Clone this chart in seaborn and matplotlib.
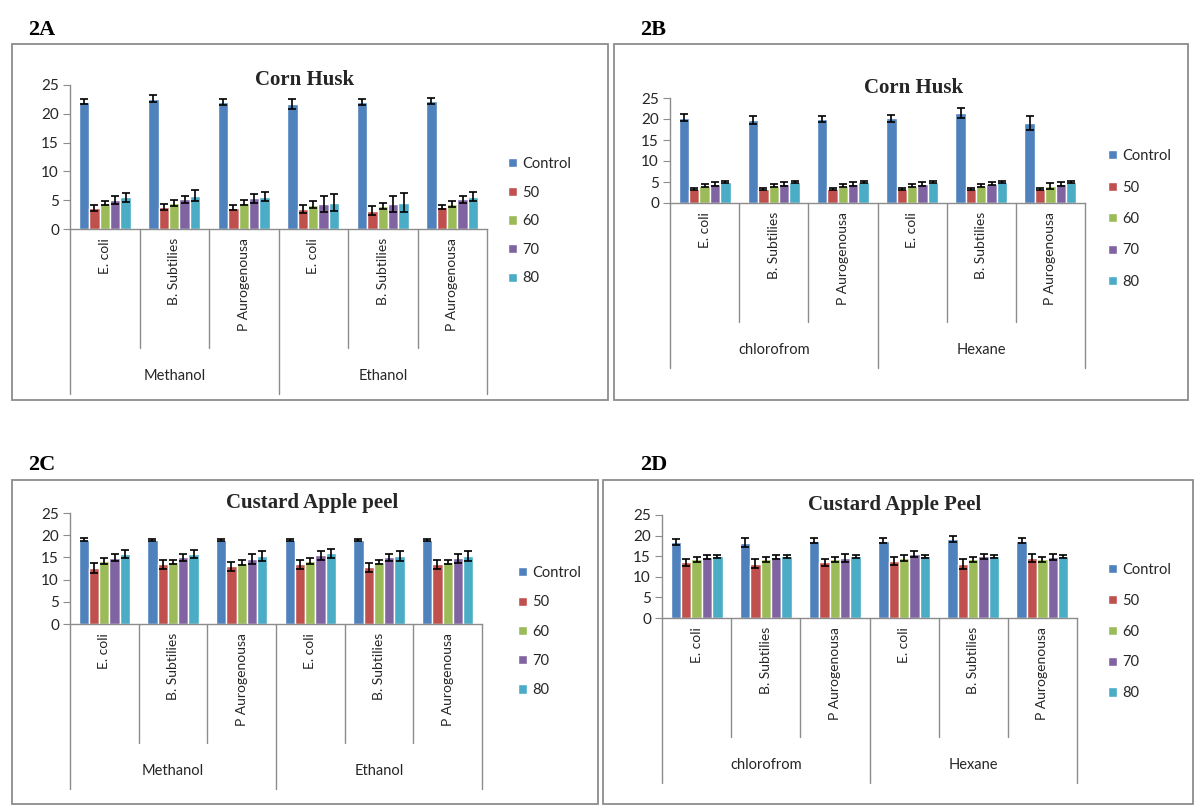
import matplotlib
matplotlib.use("Agg")
import matplotlib.pyplot as plt
import matplotlib.transforms as mtransforms
from matplotlib.patches import Rectangle
from matplotlib.lines import Line2D
import pandas as pd
import seaborn as sns

# ---------------- data ----------------
series = ["Control", "50", "60", "70", "80"]
organisms = ["E. coli", "B. Subtilies", "P Aurogenousa"]
solvents_ab = ["Methanol", "Ethanol"]
solvents_cd = ["chlorofrom", "Hexane"]
yticks = [0, 5, 10, 15, 20, 25]

# Panel 2A  Corn Husk (Methanol / Ethanol); rows = series, cols = 6 categories
a_means = [[22.1, 22.6, 22.0, 21.7, 22.0, 22.2],
           [3.6, 3.8, 3.7, 3.4, 3.2, 3.8],
           [4.5, 4.5, 4.6, 4.2, 4.0, 4.3],
           [5.0, 5.2, 5.3, 4.3, 4.3, 5.2],
           [5.5, 5.8, 5.6, 4.6, 4.6, 5.6]]
a_errs = [[0.4, 0.6, 0.5, 0.8, 0.5, 0.5],
          [0.5, 0.5, 0.4, 0.7, 0.8, 0.4],
          [0.4, 0.5, 0.5, 0.6, 0.6, 0.5],
          [0.7, 0.6, 0.7, 1.4, 1.4, 0.6],
          [0.8, 0.9, 0.8, 1.5, 1.6, 0.8]]

# Panel 2B  Corn Husk (chlorofrom / Hexane)
b_means = [[20.3, 19.8, 20.0, 20.2, 21.5, 19.0],
           [3.3, 3.3, 3.3, 3.3, 3.3, 3.3],
           [4.1, 4.1, 4.1, 4.1, 4.1, 4.0],
           [4.5, 4.5, 4.5, 4.5, 4.6, 4.5],
           [5.0, 5.0, 5.0, 5.0, 5.0, 5.0]]
b_errs = [[0.8, 1.0, 0.8, 0.8, 1.2, 1.6],
          [0.2, 0.2, 0.2, 0.2, 0.2, 0.2],
          [0.4, 0.4, 0.4, 0.4, 0.4, 0.7],
          [0.4, 0.4, 0.4, 0.4, 0.4, 0.5],
          [0.3, 0.3, 0.3, 0.3, 0.3, 0.3]]

# Panel 2C  Custard Apple peel (Methanol / Ethanol)
c_means = [[19.0, 19.0, 19.0, 19.0, 19.0, 19.0],
           [12.6, 13.5, 13.0, 13.5, 12.8, 13.5],
           [14.2, 14.0, 13.8, 14.2, 14.0, 14.0],
           [14.9, 15.0, 14.6, 15.5, 15.0, 14.8],
           [15.8, 15.8, 15.3, 15.9, 15.3, 15.3]]
c_errs = [[0.3, 0.2, 0.2, 0.2, 0.2, 0.2],
          [1.2, 1.0, 1.0, 1.0, 1.0, 1.0],
          [0.6, 0.5, 0.6, 0.6, 0.5, 0.5],
          [0.8, 0.8, 1.1, 1.0, 0.8, 1.0],
          [0.9, 0.9, 1.2, 1.0, 1.2, 1.2]]

# Panel 2D  Custard Apple Peel (chlorofrom / Hexane)
d_means = [[18.5, 18.3, 18.8, 18.8, 19.2, 18.8],
           [13.5, 13.2, 13.5, 13.8, 13.0, 14.5],
           [14.2, 14.2, 14.2, 14.5, 14.2, 14.2],
           [14.8, 14.8, 14.5, 15.5, 15.0, 14.8],
           [15.0, 15.0, 15.0, 15.0, 15.0, 15.0]]
d_errs = [[0.7, 1.0, 0.6, 0.5, 0.8, 0.6],
          [0.8, 1.0, 0.8, 1.0, 1.2, 1.0],
          [0.6, 0.6, 0.6, 0.7, 0.6, 0.6],
          [0.6, 0.6, 1.0, 0.8, 0.6, 0.8],
          [0.4, 0.4, 0.4, 0.4, 0.4, 0.4]]

colors = ["#4F81BD", "#C0504D", "#9BBB59", "#8064A2", "#4BACC6"]

# ---------------- style ----------------
sns.set_style("white")
plt.rcParams["font.family"] = ["Lato", "DejaVu Sans"]
TXT = "#262626"
GRID = "#8c8c8c"

W, H = 1194, 805
fig = plt.figure(figsize=(W / 100, H / 100), dpi=100)


def fx(x):
    return x / W


def fy(y):
    return 1 - y / H


def draw_panel(means, errs, solvents, title, tag, box, axrect, title_xy, tag_xy,
               leg_xy, leg_spacing):
    # panel frame
    x0, y0, x1, y1 = box
    fig.add_artist(Rectangle((fx(x0), fy(y1)), fx(x1) - fx(x0), fy(y0) - fy(y1),
                             transform=fig.transFigure, fill=False,
                             edgecolor=GRID, lw=1.3))
    fig.text(fx(tag_xy[0]), fy(tag_xy[1]), tag, family="Liberation Serif",
             fontweight="bold", fontsize=16, ha="left", va="center", color="black")
    fig.text(fx(title_xy[0]), fy(title_xy[1]), title, family="Liberation Serif",
             fontweight="bold", fontsize=15, ha="center", va="center", color=TXT)

    ax0, ay0, ax1, ay1 = axrect
    ax = fig.add_axes([fx(ax0), fy(ay1), fx(ax1) - fx(ax0), fy(ay0) - fy(ay1)])
    ax_h = ay1 - ay0

    cats = [f"{s}|{o}" for s in solvents for o in organisms]
    rows = []
    for si, s in enumerate(series):
        for ci, c in enumerate(cats):
            rows.append({"cat": c, "series": s, "value": means[si][ci]})
    df = pd.DataFrame(rows)
    sns.barplot(data=df, x="cat", y="value", hue="series", order=cats,
                hue_order=series, palette=colors, width=0.75, errorbar=None,
                saturation=1, ax=ax)
    handles, labels = ax.get_legend_handles_labels()
    if ax.get_legend() is not None:
        ax.get_legend().remove()

    bar_conts = list(ax.containers)
    for si, cont in enumerate(bar_conts):
        xs = [b.get_x() + b.get_width() / 2 for b in cont.patches]
        hs = [b.get_height() for b in cont.patches]
        ax.errorbar(xs, hs, yerr=errs[si], fmt="none", ecolor="black",
                    elinewidth=1.2, capsize=3, capthick=1.2, zorder=5)

    ax.set_xlim(-0.5, len(cats) - 0.5)
    ax.set_ylim(0, 25)
    ax.set_yticks(yticks)
    ax.set_yticklabels([str(t) for t in yticks], fontsize=11, color=TXT)
    ax.set_xticks([])
    ax.set_xlabel("")
    ax.set_ylabel("")
    for side in ["top", "right"]:
        ax.spines[side].set_visible(False)
    for side in ["left", "bottom"]:
        ax.spines[side].set_color(GRID)
        ax.spines[side].set_linewidth(1.0)
    ax.tick_params(axis="y", direction="out", length=5, color=GRID, pad=3,
                   left=True)

    # multi-level category axis
    trans = mtransforms.blended_transform_factory(ax.transData, ax.transAxes)
    short_len, long_len, grp_off, lab_off = 119, 165, 147, 9
    for i in range(len(cats) + 1):
        x = i - 0.5
        L = long_len if i % 3 == 0 else short_len
        ax.add_line(Line2D([x, x], [0, -L / ax_h], transform=trans, color=GRID,
                           lw=1.0, clip_on=False))
    for i, c in enumerate(cats):
        ax.text(i, -lab_off / ax_h, c.split("|")[1], transform=trans,
                rotation=90, ha="center", va="top", fontsize=10, color=TXT)
    for g, s in enumerate(solvents):
        ax.text(3 * g + 1, -grp_off / ax_h, s, transform=trans, ha="center",
                va="center", fontsize=10.5, color=TXT)

    fig.legend(handles, labels, loc="upper left",
               bbox_to_anchor=(fx(leg_xy[0]), fy(leg_xy[1])),
               bbox_transform=fig.transFigure, frameon=False, fontsize=10.5,
               handlelength=0.6, handleheight=0.6, handletextpad=0.4,
               labelspacing=leg_spacing, borderpad=0, borderaxespad=0,
               labelcolor=TXT)


draw_panel(a_means, a_errs, solvents_ab, "Corn Husk", "2A",
           (12, 44, 608, 400), (70, 85, 487, 229), (305, 80), (28, 30),
           (508, 157), 1.0)
draw_panel(b_means, b_errs, solvents_cd, "Corn Husk", "2B",
           (614, 44, 1188, 400), (670, 98, 1085, 203), (914, 88), (640, 30),
           (1108, 149), 1.2)
draw_panel(c_means, c_errs, solvents_ab, "Custard Apple peel", "2C",
           (12, 480, 598, 804), (70, 513, 482, 624), (312, 503), (28, 465),
           (518, 566), 1.05)
draw_panel(d_means, d_errs, solvents_cd, "Custard Apple Peel", "2D",
           (603, 480, 1193, 804), (662, 515, 1077, 618), (895, 505), (640, 465),
           (1108, 563), 1.15)

fig.savefig("out.png", dpi=100, facecolor="white")
